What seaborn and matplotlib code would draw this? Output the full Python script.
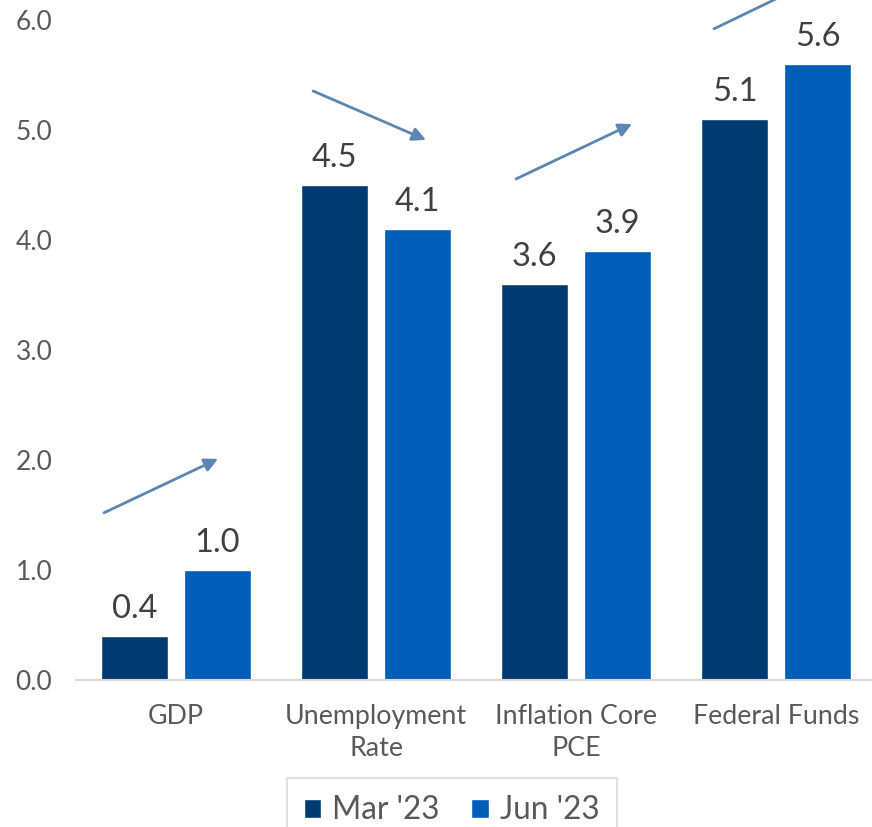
import numpy as np
import matplotlib.pyplot as plt
import seaborn as sns
import pandas as pd

categories = ['GDP', 'Unemployment\nRate', 'Inflation Core\nPCE', 'Federal Funds']
series = ["Mar '23", "Jun '23"]
mar_vals = [0.4, 4.5, 3.6, 5.1]
jun_vals = [1.0, 4.1, 3.9, 5.6]
yticks = [0.0, 1.0, 2.0, 3.0, 4.0, 5.0, 6.0]

# arrows showing direction of change (start -> end, in data units)
arrows = [((-0.36, 1.52), (0.21, 2.01)),
          ((0.685, 5.355), (1.25, 4.91)),
          ((1.70, 4.555), (2.28, 5.055)),
          ((2.69, 5.92), (3.26, 6.42))]

df = pd.DataFrame({
    'cat': categories * 2,
    'period': [series[0]] * 4 + [series[1]] * 4,
    'val': mar_vals + jun_vals,
})

sns.set_style('white')
plt.rcParams['font.family'] = ['Lato', 'DejaVu Sans']
grey = '#595959'

fig = plt.figure(figsize=(8.72, 8.27), dpi=100)
ax = fig.add_axes([0.0872, 0.1778, 0.9128, 0.798])
pal = ['#003B71', '#005EB8']
sns.barplot(data=df, x='cat', y='val', hue='period', palette=pal,
            width=0.83, gap=0.2, saturation=1, ax=ax)

for c in ax.containers:
    ax.bar_label(c, fmt='%.1f', padding=8.5, fontsize=23.5, color='#404040')

for (s, e) in arrows:
    ax.annotate('', xy=e, xytext=s, annotation_clip=False,
                arrowprops=dict(arrowstyle='-|>,head_length=0.8,head_width=0.4',
                                color='#5B87B2', lw=2, shrinkA=0, shrinkB=0))

ax.set_ylim(0, 6.0)
ax.set_xlim(-0.5, 3.48)
ax.set_yticks(yticks)
ax.set_yticklabels([f'{t:.1f}' for t in yticks])
ax.tick_params(axis='y', length=0, pad=17, labelsize=19, labelcolor=grey)
ax.tick_params(axis='x', length=0, pad=17, labelsize=19.3, labelcolor=grey)
for t in ax.get_xticklabels():
    t.set_linespacing(1.35)
ax.set_xlabel('')
ax.set_ylabel('')
for side in ['left', 'right', 'top']:
    ax.spines[side].set_visible(False)
ax.spines['bottom'].set_color('#D9D9D9')
ax.spines['bottom'].set_linewidth(1.5)

ax.legend_.remove()
leg = fig.legend(*ax.get_legend_handles_labels(), loc='upper center',
                 bbox_to_anchor=(0.518, 0.0592), ncol=2, fontsize=22.7,
                 frameon=True, fancybox=False, handlelength=0.55,
                 handleheight=0.55, handletextpad=0.35, columnspacing=1.0,
                 borderpad=0.55, borderaxespad=0)
leg.get_frame().set_edgecolor('#D9D9D9')
leg.get_frame().set_linewidth(1.5)
for t in leg.get_texts():
    t.set_color(grey)

fig.savefig('out.png', dpi=100)
